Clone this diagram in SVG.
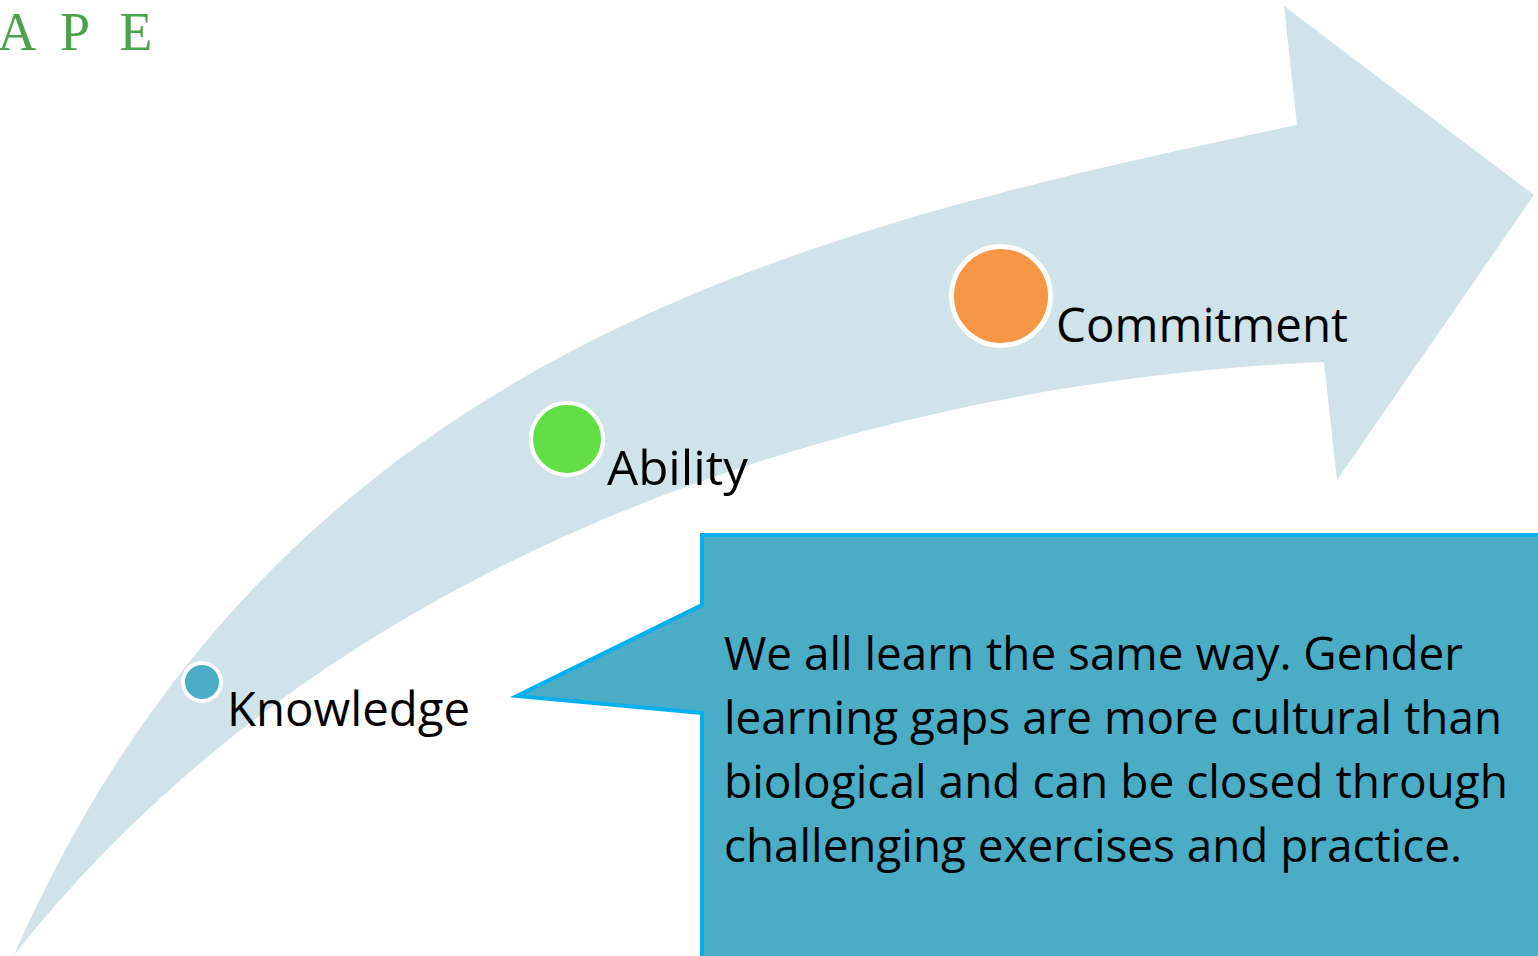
<svg xmlns="http://www.w3.org/2000/svg" width="1538" height="956" viewBox="0 0 1538 956">
  <style>
    .lbl { font-family: "Open Sans", "Liberation Sans", sans-serif; fill: #000; }
    .node-label { font-size: 48px; }
    .note { font-size: 46px; }
    .brand { font-family: "Liberation Serif", "DejaVu Serif", serif; font-size: 54px; fill: #4CA24C; text-anchor: middle; }
    .dot { stroke: #FFFFFF; }
  </style>
  <rect width="1538" height="956" fill="#FFFFFF"/>

  <!-- brand letters -->
  <g id="brand">
    <text class="brand" x="17" y="50">A</text>
    <text class="brand" x="75" y="50">P</text>
    <text class="brand" x="136" y="50">E</text>
  </g>

  <!-- curved progress arrow -->
  <g id="connectors">
    <path id="progress-arrow" fill="#D0E3EB"
          d="M14,955 C280,350 800,230 1297,125 L1284,6 L1534,195 L1337,480 L1324,362 C900,380 350,530 14,955 Z"/>
  </g>

  <g id="node-knowledge">
    <circle class="dot" cx="202" cy="682" r="19" fill="#4BACC6" stroke-width="4"/>
    <text class="lbl node-label" x="227" y="726" textLength="243" lengthAdjust="spacingAndGlyphs">Knowledge</text>
  </g>

  <g id="node-ability">
    <circle class="dot" cx="567" cy="439" r="36" fill="#62DF44" stroke-width="4"/>
    <text class="lbl node-label" x="607" y="485" textLength="141" lengthAdjust="spacingAndGlyphs">Ability</text>
  </g>

  <g id="node-commitment">
    <circle class="dot" cx="1001" cy="296" r="49.5" fill="#F79646" stroke-width="5"/>
    <text class="lbl node-label" x="1056" y="342" textLength="292" lengthAdjust="spacingAndGlyphs">Commitment</text>
  </g>

  <!-- callout box -->
  <g id="callout">
    <path fill="#4BACC6" stroke="#00B0F0" stroke-width="4" stroke-linejoin="miter"
          d="M702,535 L1545,535 L1545,965 L702,965 L702,713 L517,696 L702,605 Z"/>
    <text class="lbl note" x="724" y="670" textLength="739" lengthAdjust="spacingAndGlyphs">We all learn the same way. Gender</text>
    <text class="lbl note" x="724" y="734" textLength="778" lengthAdjust="spacingAndGlyphs">learning gaps are more cultural than</text>
    <text class="lbl note" x="724" y="798" textLength="784" lengthAdjust="spacingAndGlyphs">biological and can be closed through</text>
    <text class="lbl note" x="724" y="862" textLength="738" lengthAdjust="spacingAndGlyphs">challenging exercises and practice.</text>
  </g>
</svg>
